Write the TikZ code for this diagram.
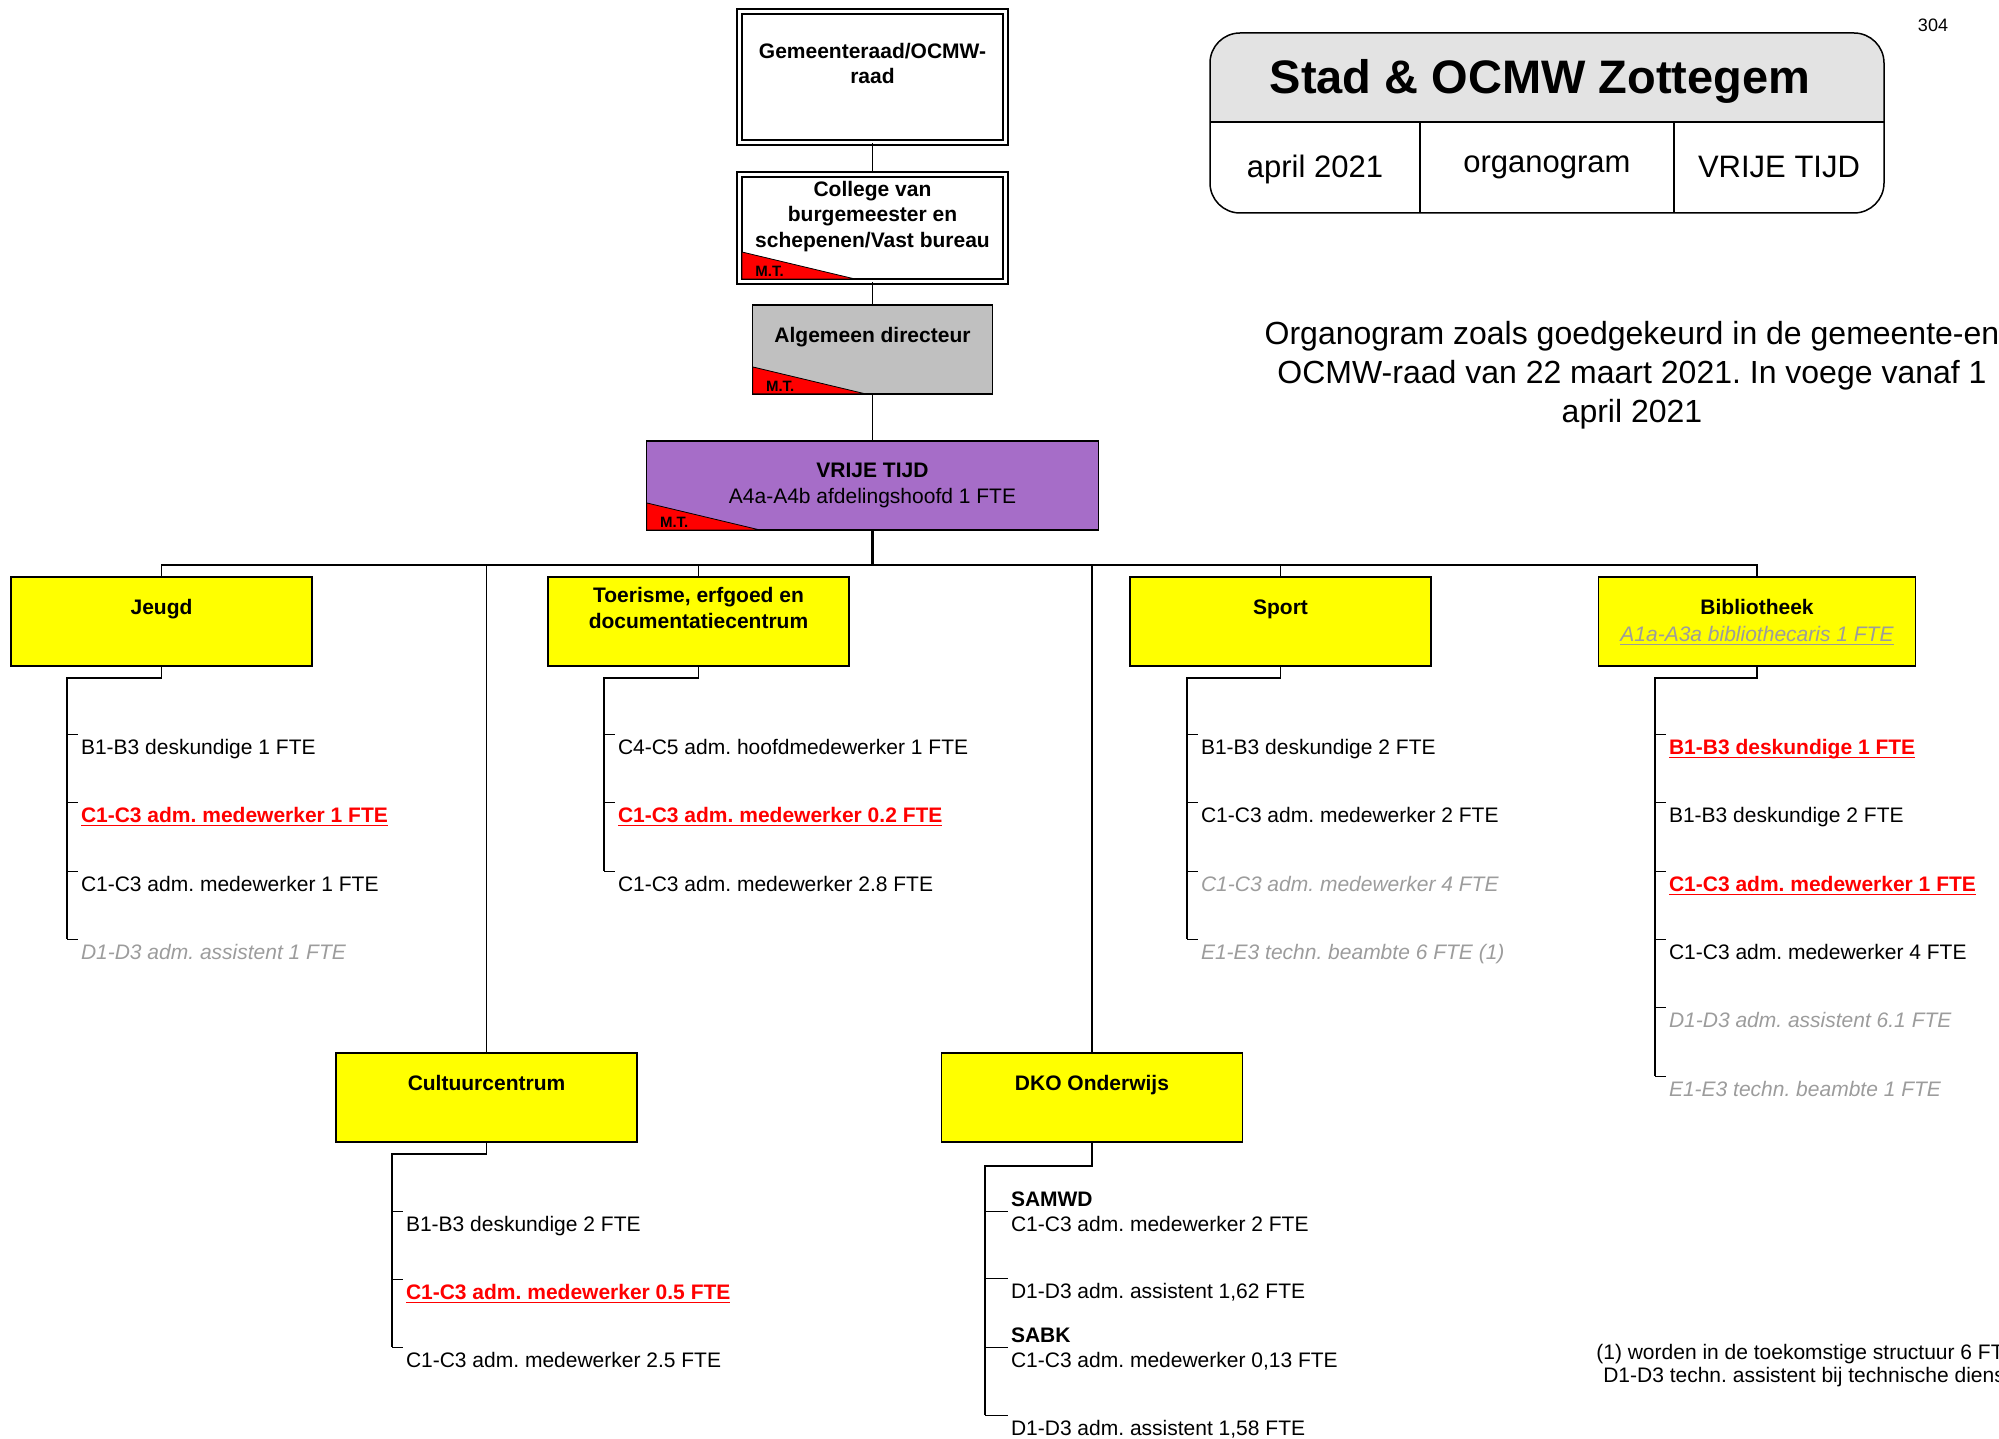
\documentclass[tikz,border=0pt]{standalone}
\usepackage{fontspec}
\setmainfont{Liberation Sans}
\usetikzlibrary{positioning}
\frenchspacing
\definecolor{deptyellow}{HTML}{FFFF00}
\definecolor{dirgray}{HTML}{C0C0C0}
\definecolor{vtpurple}{HTML}{A66DC8}
\definecolor{hdrgray}{HTML}{E3E3E3}
\definecolor{fadegray}{HTML}{9C9C9C}
\newsavebox{\ulbox}
\newcommand{\uln}[1]{\sbox\ulbox{#1}\rlap{\rule[-2.1pt]{\wd\ulbox}{0.7pt}}\usebox\ulbox}
\tikzset{
  topbox/.style={draw, double, double distance=1.5pt, line width=1pt, fill=white, minimum width=133pt, inner sep=0pt},
  headbox/.style={draw, line width=0.9pt, minimum height=44.5pt, inner sep=0pt},
  dept/.style={draw, line width=0.9pt, fill=deptyellow, minimum width=150.5pt, minimum height=44.5pt, inner sep=0pt},
  boxtxt/.style={inner sep=0pt, align=center, font=\bfseries\fontsize{10.5}{12.75}\selectfont},
  item/.style={anchor=north west, inner xsep=1.5pt, inner ysep=2.5pt, outer sep=0pt, font=\fontsize{10.5}{12.5}\selectfont},
  subhead/.style={item, anchor=base west, font=\bfseries\fontsize{10.5}{12.5}\selectfont},
  newpost/.style={text=red, font=\bfseries\fontsize{10.5}{12.5}\selectfont},
  vacant/.style={text=fadegray, font=\itshape\fontsize{10.5}{12.5}\selectfont},
  link/.style={line width=0.65pt},
  trunk/.style={line width=1.1pt},
  spine/.style={line width=0.9pt},
  tick/.style={line width=0.5pt},
  frame/.style={line width=0.75pt},
  mtflag/.style={fill=red, draw=black, line width=0.4pt},
  mtlabel/.style={inner sep=0pt, anchor=base west, font=\bfseries\fontsize{7.5}{8}\selectfont}
}
% red M.T. corner in a box: node name, inset (px)
\newcommand{\mtmark}[2]{%
  \coordinate (#1-mt) at ([shift={(#2,-#2)}]#1.south west);
  \filldraw[mtflag] (#1-mt) ++(0,-27) -- (#1-mt) -- ++(113,0) -- cycle;
  \node[mtlabel] (#1-mtl) at ([shift={(13,-2)}]#1-mt) {M.T.};
}

\begin{document}
\begin{tikzpicture}[x=0.5pt, y=-0.5pt]
  \useasboundingbox (0,0) rectangle (1999,1439);
  \clip (0,0) rectangle (1999,1439);

  % Title block
  \begin{scope}
    \clip[rounded corners=15pt] (1210,33) rectangle (1884,213);
    \fill[hdrgray] (1210,33) rectangle (1884,122);
  \end{scope}
  \draw[frame, rounded corners=15pt] (1210,33) rectangle (1884,213);
  \draw[frame] (1210,122) -- (1884,122) (1420,122) -- (1420,213) (1674,122) -- (1674,213);
  \node[anchor=base, inner sep=0pt, font=\bfseries\fontsize{23.5}{27}\selectfont] (title) at (1540,94) {Stad \& OCMW Zottegem};
  \node[anchor=base, inner sep=0pt, font=\fontsize{15.5}{18}\selectfont] (date) at (1315,178) {april 2021};
  \node[anchor=base, inner sep=0pt, font=\fontsize{15.5}{18}\selectfont] (kind) at (1547,173) {organogram};
  \node[anchor=base, inner sep=0pt, font=\fontsize{15.5}{18}\selectfont] (unit) at (1779,178) {VRIJE TIJD};
  \node[anchor=base, inner sep=0pt, font=\fontsize{9}{10}\selectfont] (page) at (1933,32) {304};
  \node[anchor=north, align=center, inner sep=0pt, font=\fontsize{16}{19.5}\selectfont] (note) at (1632,321)
    {Organogram zoals goedgekeurd in de gemeente-en\\OCMW-raad van 22 maart 2021. In voege vanaf 1\\april 2021};
  \node[anchor=north, align=center, inner sep=0pt, font=\fontsize{10.5}{11.5}\selectfont] (foot) at (1807,1344)
    {(1) worden in de toekomstige structuur 6 FTE\\D1-D3 techn. assistent bij technische dienst};

  % Management chain
  \node[topbox, minimum height=65.5pt] (gem) at (872.5,77) {};
  \node[boxtxt, below=16pt of gem.north] (gem-t) {Gemeenteraad/OCMW-\\raad};
  \node[topbox, minimum height=53.5pt] (col) at (872.5,228) {};
  \node[boxtxt, below=3.5pt of col.north] (col-t) {College van\\burgemeester en\\schepenen/Vast bureau};
  \node[headbox, fill=dirgray, minimum width=120pt] (alg) at (872.5,349.5) {};
  \node[boxtxt, below=11.5pt of alg.north] (alg-t) {Algemeen directeur};
  \node[headbox, fill=vtpurple, minimum width=226pt] (vt) at (872.5,485.5) {};
  \node[boxtxt, below=11.5pt of vt.north] (vt-t) {VRIJE TIJD\\[0.25pt]\mdseries A4a-A4b afdelingshoofd 1 FTE};
  \mtmark{col}{3.5}
  \mtmark{alg}{1}
  \mtmark{vt}{1}

  \draw[link] (gem.south) -- (col.north);
  \draw[link] (col.south) -- (alg.north);
  \draw[link] (alg.south) -- (vt.north);
  \coordinate (bus) at (872.5,565);
  \draw[trunk] (vt.south) -- (bus);

  % Departments
  \node[dept] (jeugd) at (161.5,621.5) {};
  \node[boxtxt, below=11.5pt of jeugd.north] (jeugd-t) {Jeugd};
  \node[dept] (tour) at (698.5,621.5) {};
  \node[boxtxt, below=5.5pt of tour.north] (tour-t) {Toerisme, erfgoed en\\documentatiecentrum};
  \node[dept] (sport) at (1280.5,621.5) {};
  \node[boxtxt, below=11.5pt of sport.north] (sport-t) {Sport};
  \node[dept, minimum width=158.5pt] (bib) at (1757,621.5) {};
  \node[boxtxt, below=11.5pt of bib.north] (bib-t) {Bibliotheek\\[0.5pt]{\mdseries\itshape\color{fadegray}\uln{A1a-A3a bibliothecaris 1 FTE}}};
  \node[dept] (cult) at (486.5,1097.5) {};
  \node[boxtxt, below=11.5pt of cult.north] (cult-t) {Cultuurcentrum};
  \node[dept] (dko) at (1092,1097.5) {};
  \node[boxtxt, below=11.5pt of dko.north] (dko-t) {DKO Onderwijs};

  \draw[link] (jeugd.north) |- (bus) -| (bib.north);
  \draw[link] (tour.north) -- (tour.north |- bus);
  \draw[link] (sport.north) -- (sport.north |- bus);
  \draw[link] (cult.north) -- (cult.north |- bus);
  \draw[link] (dko.north) -- (dko.north |- bus);

  % Jeugd
  \node[item] (j1) at (78,734) {B1-B3 deskundige 1 FTE};
  \node[item, newpost] (j2) at (78,802) {\uln{C1-C3 adm. medewerker 1 FTE}};
  \node[item] (j3) at (78,871) {C1-C3 adm. medewerker 1 FTE};
  \node[item, vacant] (j4) at (78,939) {D1-D3 adm. assistent 1 FTE};
  \coordinate (jeugd-sp) at (67,678);
  \draw[spine] (jeugd.south) |- (jeugd-sp) -- (jeugd-sp |- j4.north west);
  \foreach \i in {1,...,4} \draw[tick] (jeugd-sp |- j\i.north west) -- (j\i.north west);

  % Toerisme
  \node[item] (t1) at (615,734) {C4-C5 adm. hoofdmedewerker 1 FTE};
  \node[item, newpost] (t2) at (615,802) {\uln{C1-C3 adm. medewerker 0.2 FTE}};
  \node[item] (t3) at (615,871) {C1-C3 adm. medewerker 2.8 FTE};
  \coordinate (tour-sp) at (604,678);
  \draw[spine] (tour.south) |- (tour-sp) -- (tour-sp |- t3.north west);
  \foreach \i in {1,...,3} \draw[tick] (tour-sp |- t\i.north west) -- (t\i.north west);

  % Sport
  \node[item] (s1) at (1198,734) {B1-B3 deskundige 2 FTE};
  \node[item] (s2) at (1198,802) {C1-C3 adm. medewerker 2 FTE};
  \node[item, vacant] (s3) at (1198,871) {C1-C3 adm. medewerker 4 FTE};
  \node[item, vacant] (s4) at (1198,939) {E1-E3 techn. beambte 6 FTE (1)};
  \coordinate (sport-sp) at (1187,678);
  \draw[spine] (sport.south) |- (sport-sp) -- (sport-sp |- s4.north west);
  \foreach \i in {1,...,4} \draw[tick] (sport-sp |- s\i.north west) -- (s\i.north west);

  % Bibliotheek
  \node[item, newpost] (b1) at (1666,734) {\uln{B1-B3 deskundige 1 FTE}};
  \node[item] (b2) at (1666,802) {B1-B3 deskundige 2 FTE};
  \node[item, newpost] (b3) at (1666,871) {\uln{C1-C3 adm. medewerker 1 FTE}};
  \node[item] (b4) at (1666,939) {C1-C3 adm. medewerker 4 FTE};
  \node[item, vacant] (b5) at (1666,1007) {D1-D3 adm. assistent 6.1 FTE};
  \node[item, vacant] (b6) at (1666,1076) {E1-E3 techn. beambte 1 FTE};
  \coordinate (bib-sp) at (1655,678);
  \draw[spine] (bib.south) |- (bib-sp) -- (bib-sp |- b6.north west);
  \foreach \i in {1,...,6} \draw[tick] (bib-sp |- b\i.north west) -- (b\i.north west);

  % Cultuurcentrum
  \node[item] (c1) at (403,1211) {B1-B3 deskundige 2 FTE};
  \node[item, newpost] (c2) at (403,1279) {\uln{C1-C3 adm. medewerker 0.5 FTE}};
  \node[item] (c3) at (403,1347) {C1-C3 adm. medewerker 2.5 FTE};
  \coordinate (cult-sp) at (392,1154);
  \draw[spine] (cult.south) |- (cult-sp) -- (cult-sp |- c3.north west);
  \foreach \i in {1,...,3} \draw[tick] (cult-sp |- c\i.north west) -- (c\i.north west);

  % DKO Onderwijs
  \node[item] (d1) at (1008,1211) {C1-C3 adm. medewerker 2 FTE};
  \node[subhead] (samwd) at ([yshift=12.5pt]d1.base west) {SAMWD};
  \node[item] (d2) at (1008,1278) {D1-D3 adm. assistent 1,62 FTE};
  \node[item] (d3) at (1008,1347) {C1-C3 adm. medewerker 0,13 FTE};
  \node[subhead] (sabk) at ([yshift=12.5pt]d3.base west) {SABK};
  \node[item] (d4) at (1008,1415) {D1-D3 adm. assistent 1,58 FTE};
  \coordinate (dko-sp) at (985,1166);
  \draw[spine] (dko.south) |- (dko-sp) -- (dko-sp |- d4.north west);
  \foreach \i in {1,...,4} \draw[tick] (dko-sp |- d\i.north west) -- (d\i.north west);
\end{tikzpicture}
\end{document}
